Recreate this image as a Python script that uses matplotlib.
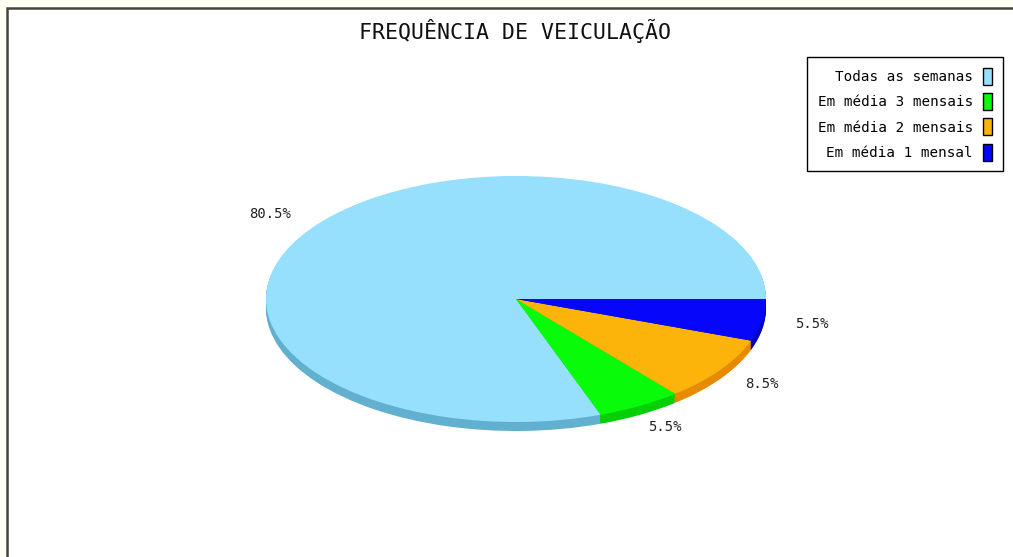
import matplotlib
matplotlib.use('Agg')
import matplotlib.pyplot as plt
import numpy as np
from matplotlib.patches import Patch, Rectangle

# data
labels = ['Todas as semanas', 'Em média 3 mensais', 'Em média 2 mensais', 'Em média 1 mensal']
values = [80.5, 5.5, 8.5, 5.5]
colors = ['#97e0fd', '#08fb08', '#fdb40a', '#0606fb']
side_colors = ['#62b0d0', '#05d005', '#e88a00', '#0404c0']
title = 'FREQUÊNCIA DE VEICULAÇÃO'

W, H = 1013, 557
fig = plt.figure(figsize=(W / 100, H / 100), dpi=100, facecolor='#fffff4')

# background / frame in pixel coords
bg = fig.add_axes([0, 0, 1, 1])
bg.set_xlim(0, W)
bg.set_ylim(H, 0)
bg.axis('off')
bg.add_patch(Rectangle((7, 8), W + 10, H + 10, facecolor='white',
                       edgecolor='#444444', linewidth=1.8))
bg.text(515, 31, title, ha='center', va='center', fontsize=15.5,
        family='DejaVu Sans Mono', color='#111111')

# pie (3d-ish: darker copies stacked downwards, then top face)
depth = 9 / 123
ax = fig.add_axes([266 / W, (H - 431) / H, 500 / W, 255 / H])
for off in np.linspace(depth, 0.005, 10):
    ax.pie(values, colors=side_colors, startangle=0, counterclock=True,
           center=(0, -off), wedgeprops=dict(linewidth=0))
ax.pie(values, colors=colors, startangle=0, counterclock=True,
       autopct='%.1f%%', pctdistance=1.2,
       textprops=dict(family='DejaVu Sans Mono', fontsize=10, color='#222222'),
       wedgeprops=dict(linewidth=0))
ax.set_aspect('auto')
ax.set_xlim(-1, 1)
ax.set_ylim(-1 - depth, 1)
ax.axis('off')

handles = [Patch(facecolor=c, edgecolor='black', linewidth=1) for c in colors]
leg = bg.legend(handles, labels, loc='upper right',
                bbox_to_anchor=(1003 / W, 1 - 57 / H), bbox_transform=fig.transFigure,
                borderaxespad=0, markerfirst=False, fancybox=False,
                edgecolor='black', framealpha=1, handlelength=0.65,
                handleheight=1.45, handletextpad=0.7, labelspacing=0.58,
                borderpad=0.75, prop=dict(family='DejaVu Sans Mono', size=10.3))
leg.get_frame().set_linewidth(1)

fig.savefig('out.png', dpi=100, facecolor=fig.get_facecolor())
